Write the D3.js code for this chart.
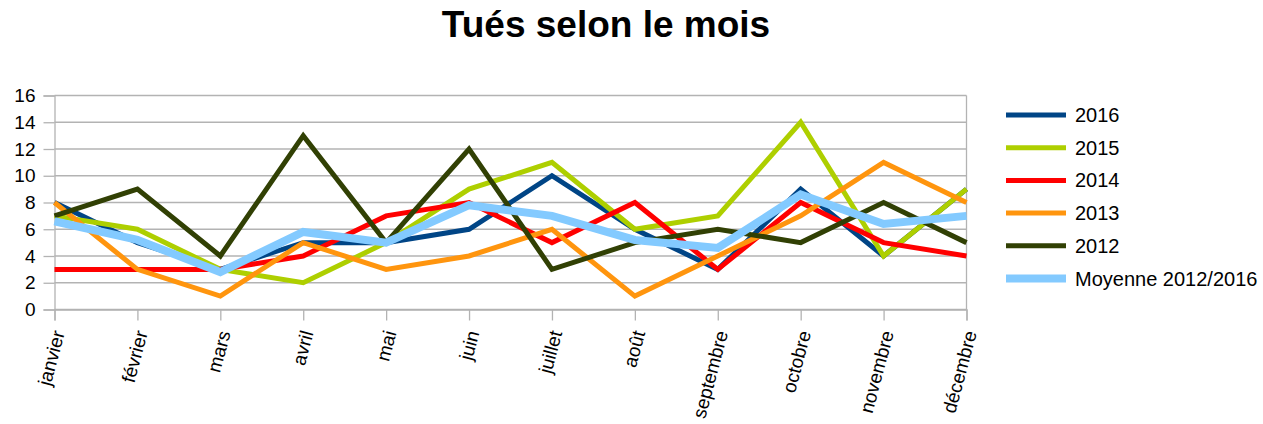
<!DOCTYPE html>
<html>
<head>
<meta charset="utf-8">
<script src="https://cdn.jsdelivr.net/npm/d3@7"></script>
<style>
  body { margin: 0; background: #fff; }
  svg { font-family: "Liberation Sans", Arial, sans-serif; }
</style>
</head>
<body>
<script>
const months = ["janvier", "février", "mars", "avril", "mai", "juin", "juillet", "août", "septembre", "octobre", "novembre", "décembre"]
const y2016 = [8, 5, 3, 5, 5, 6, 10, 6, 3, 9, 4, 9]
const y2015 = [7, 6, 3, 2, 5, 9, 11, 6, 7, 14, 4, 9]
const y2014 = [3, 3, 3, 4, 7, 8, 5, 8, 3, 8, 5, 4]
const y2013 = [8, 3, 1, 5, 3, 4, 6, 1, 4, 7, 11, 8]
const y2012 = [7, 9, 4, 13, 5, 12, 3, 5, 6, 5, 8, 5]
const moyenne = [6.6, 5.2, 2.8, 5.8, 5, 7.8, 7, 5.2, 4.6, 8.6, 6.4, 7]
const yTicks = [0, 2, 4, 6, 8, 10, 12, 14, 16]

const series = [
    {name: "2016", values: y2016, color: "#004586", w: 5},
    {name: "2015", values: y2015, color: "#aecf00", w: 5},
    {name: "2014", values: y2014, color: "#ff0000", w: 5},
    {name: "2013", values: y2013, color: "#ff950e", w: 5},
    {name: "2012", values: y2012, color: "#314004", w: 5},
    {name: "Moyenne 2012/2016", values: moyenne, color: "#83caff", w: 8}
]

const width = 1263
const height = 424
const grid = "#b3b3b3"

const svg = d3.select('body').append('svg')
    .attr('width', width)
    .attr('height', height)

svg.append('text')
    .attr('x', 606)
    .attr('y', 37)
    .attr('text-anchor', 'middle')
    .attr('font-size', 37)
    .attr('font-weight', 'bold')
    .text('Tués selon le mois')

const x = d3.scalePoint()
    .domain(months)
    .range([54.5, 966.5])

const y = d3.scaleLinear()
    .domain([0, 16])
    .range([309.5, 95.5])

// horizontal grid + left ticks
const yAxis = svg.append('g')
    .attr('transform', 'translate(54.5,0)')
    .call(d3.axisLeft(y).tickValues(yTicks).tickSize(11).tickPadding(8).tickFormat(d3.format('d')))
yAxis.select('.domain').attr('stroke', grid).attr('stroke-width', 1.3)
yAxis.selectAll('line').attr('stroke', grid).attr('stroke-width', 1.3)
yAxis.selectAll('text').attr('font-size', 19).attr('fill', '#000').attr('font-family', '"Liberation Sans", Arial, sans-serif')

svg.append('g').selectAll('line')
    .data(yTicks)
    .join('line')
    .attr('x1', 54.5)
    .attr('x2', 966.5)
    .attr('y1', d => y(d))
    .attr('y2', d => y(d))
    .attr('stroke', grid)
    .attr('stroke-width', 1.3)

svg.append('line')
    .attr('x1', 966.5).attr('x2', 966.5)
    .attr('y1', y(16)).attr('y2', y(0))
    .attr('stroke', grid).attr('stroke-width', 1.3)

// bottom axis
const xAxis = svg.append('g')
    .attr('transform', 'translate(0,309.5)')
    .call(d3.axisBottom(x).tickSize(11).tickFormat(''))
xAxis.select('.domain').attr('stroke', grid).attr('stroke-width', 1.3)
xAxis.selectAll('line').attr('stroke', grid).attr('stroke-width', 1.3)

svg.append('g').selectAll('text')
    .data(months)
    .join('text')
    .attr('transform', d => `translate(${x(d) + 4},331) rotate(-75)`)
    .attr('text-anchor', 'end')
    .attr('dy', '0.35em')
    .attr('font-size', 19)
    .text(d => d)

// lines
const line = d3.line()
    .x((d, i) => x(months[i]))
    .y(d => y(d))

svg.append('g').selectAll('path')
    .data(series)
    .join('path')
    .attr('d', d => line(d.values))
    .attr('fill', 'none')
    .attr('stroke', d => d.color)
    .attr('stroke-width', d => d.w)
    .attr('stroke-linejoin', 'miter')

// legend
const legend = svg.append('g').selectAll('g')
    .data(series)
    .join('g')
    .attr('transform', (d, i) => `translate(1006,${115 + i * 32.7})`)
legend.append('line')
    .attr('x1', 0).attr('x2', 60)
    .attr('stroke', d => d.color)
    .attr('stroke-width', d => d.w)
legend.append('text')
    .attr('x', 69)
    .attr('dy', '0.35em')
    .attr('font-size', 20)
    .text(d => d.name)
</script>
</body>
</html>
